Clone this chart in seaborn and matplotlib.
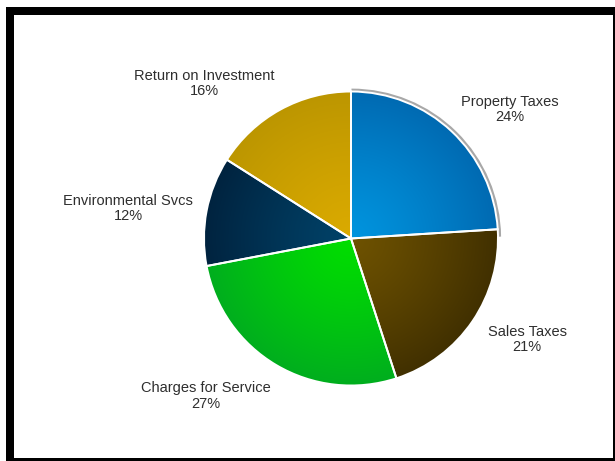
import numpy as np
import matplotlib
matplotlib.use("Agg")
import matplotlib.pyplot as plt
from matplotlib.patches import Wedge, Rectangle
from matplotlib.colors import to_rgb
import seaborn as sns

# ---- data ----
categories = ["Property Taxes", "Sales Taxes", "Charges for Service",
              "Environmental Svcs", "Return on Investment"]
shares = [24, 21, 27, 12, 16]
inner_colors = ["#0094DE", "#6E5200", "#00DE00", "#004268", "#DAAA00"]
outer_colors = ["#006AB2", "#413000", "#00AE1E", "#00233F", "#BC9600"]
# label centres (pixel coords, y up) for each category
label_x = [510, 527, 206, 128, 204]
label_y = [351.5, 121.5, 65, 252.5, 377.5]

sns.set_theme(style="white")
plt.rcParams["font.family"] = ["Liberation Sans", "DejaVu Sans"]

W, H = 615, 461
fig = plt.figure(figsize=(W / 100, H / 100), dpi=100)
fig.patch.set_facecolor("white")
ax = fig.add_axes([0, 0, 1, 1])

cx, cy, R = 351, 222.5, 147
labels = [f"{c}\n{v}%" for c, v in zip(categories, shares)]
inner = sns.color_palette(inner_colors)
outer = sns.color_palette(outer_colors)

wedges, texts = ax.pie(shares, labels=labels, startangle=90, counterclock=False,
                       center=(cx, cy), radius=R, colors=inner,
                       wedgeprops=dict(edgecolor="white", linewidth=1.4),
                       textprops=dict(color="#2E2E2E", fontsize=10.5))
ax.set_xlim(0, W)
ax.set_ylim(0, H)
ax.set_aspect("auto")
ax.axis("off")

# shadow behind first wedge
w0 = wedges[0]
shadow = Wedge((cx + 0.5, cy + 0.3), R + 2.6, w0.theta1 - 3, w0.theta2,
               facecolor="#A8A8A8", edgecolor="none", zorder=0.5)
ax.add_patch(shadow)

# radial gradients clipped to wedges
n = 400
xs = np.linspace(cx - R - 2, cx + R + 2, n)
ys = np.linspace(cy - R - 2, cy + R + 2, n)
X, Y = np.meshgrid(xs, ys)
t = np.clip(np.hypot(X - cx, Y - cy) / R, 0, 1)[..., None] ** 1.2
for w, ci, co in zip(wedges, inner, outer):
    ci = np.array(to_rgb(ci)); co = np.array(to_rgb(co))
    img = ci * (1 - t) + co * t
    im = ax.imshow(img, extent=[xs[0], xs[-1], ys[0], ys[-1]], origin="lower",
                   zorder=1.5, interpolation="bilinear")
    im.set_clip_path(w)
    w.set_facecolor("none")
    w.set_zorder(2)

for tx, x, y in zip(texts, label_x, label_y):
    tx.set_position((x, y))
    tx.set_ha("center")
    tx.set_va("center")
    tx.set_multialignment("center")
    tx.set_linespacing(1.15)

# frame
frame = dict(facecolor="black", edgecolor="none", zorder=5)
ax.add_patch(Rectangle((6, 0), 8, H - 7, **frame))
ax.add_patch(Rectangle((6, H - 15), W - 6, 8, **frame))
ax.add_patch(Rectangle((612.5, 0), 2.0, H - 7, **frame))
ax.add_patch(Rectangle((6, 0.5), W - 6, 2.5, **frame))

fig.savefig("out.png", dpi=100, facecolor="white")
